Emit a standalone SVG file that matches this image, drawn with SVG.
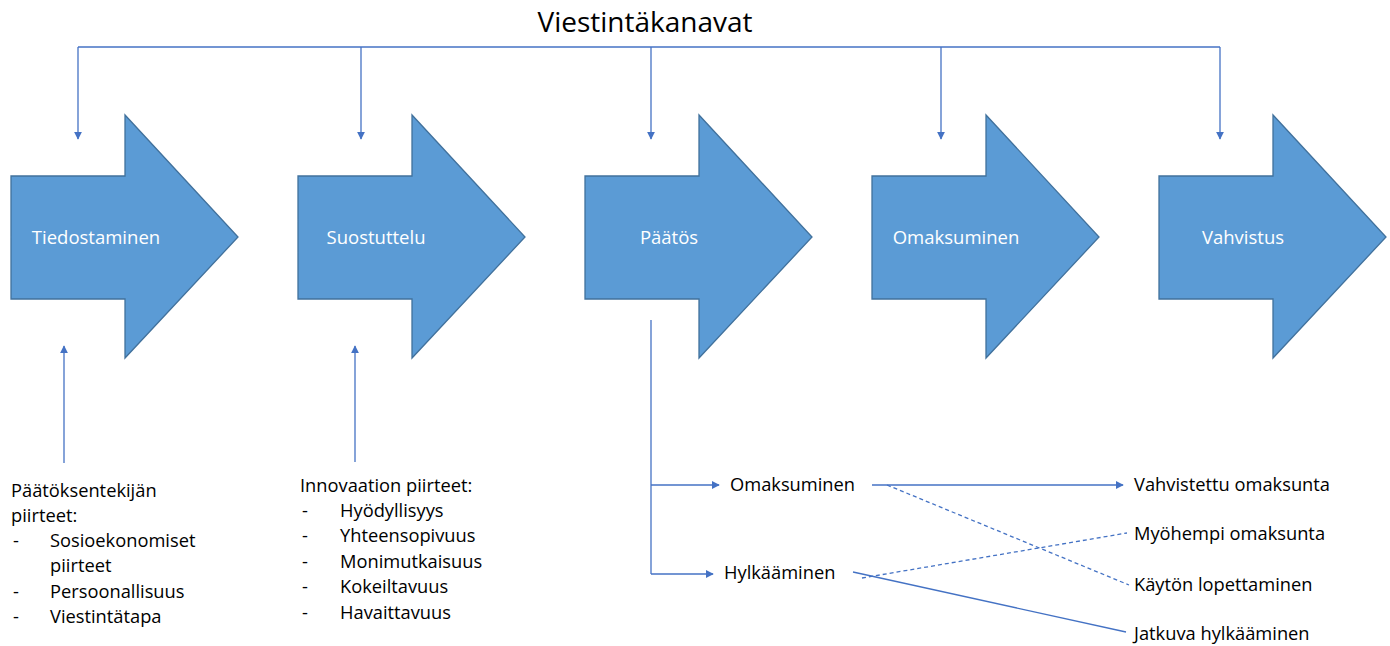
<svg xmlns="http://www.w3.org/2000/svg" width="1390" height="646" viewBox="0 0 1390 646">
  <style>
    .stage { fill: #5B9BD5; stroke: #41719C; stroke-width: 1.3; }
    .stage-label { font-family: "Open Sans", "Liberation Sans", sans-serif; font-size: 18.5px; fill: #FFFFFF; text-anchor: middle; }
    .title { font-family: "Open Sans", "Liberation Sans", sans-serif; font-size: 28px; fill: #000000; text-anchor: middle; }
    .txt { font-family: "Open Sans", "Liberation Sans", sans-serif; font-size: 18.3px; fill: #000000; }
    .conn { fill: none; stroke: #4472C4; stroke-width: 1.3; }
    .dash { stroke-dasharray: 4 3; }
  </style>
  <defs>
    <marker id="tip" viewBox="0 0 10 10" refX="9" refY="5" markerWidth="8" markerHeight="8" markerUnits="userSpaceOnUse" orient="auto">
      <path d="M0,0 L10,5 L0,10 Z" fill="#4472C4"/>
    </marker>
    <path id="stage-shape" d="M0,61 L114,61 L114,0 L227,122 L114,243 L114,184 L0,184 Z"/>
  </defs>

  <rect width="1390" height="646" fill="#FFFFFF"/>

  <text class="title" x="645" y="32">Viestintäkanavat</text>

  <!-- process stages -->
  <g id="stage-tiedostaminen">
    <use href="#stage-shape" class="stage" x="11" y="115"/>
    <text class="stage-label" x="96" y="244">Tiedostaminen</text>
  </g>
  <g id="stage-suostuttelu">
    <use href="#stage-shape" class="stage" x="298" y="115"/>
    <text class="stage-label" x="376" y="244">Suostuttelu</text>
  </g>
  <g id="stage-paatos">
    <use href="#stage-shape" class="stage" x="585" y="115"/>
    <text class="stage-label" x="669" y="244">Päätös</text>
  </g>
  <g id="stage-omaksuminen">
    <use href="#stage-shape" class="stage" x="872" y="115"/>
    <text class="stage-label" x="956" y="244">Omaksuminen</text>
  </g>
  <g id="stage-vahvistus">
    <use href="#stage-shape" class="stage" x="1159" y="115"/>
    <text class="stage-label" x="1243" y="244">Vahvistus</text>
  </g>

  <!-- influencing factors -->
  <g id="decider-traits" class="txt">
    <text x="11" y="497">Päätöksentekijän</text>
    <text x="11" y="522">piirteet:</text>
    <text x="13" y="547">-</text><text x="50" y="547">Sosioekonomiset</text>
    <text x="50" y="572">piirteet</text>
    <text x="13" y="598">-</text><text x="50" y="598">Persoonallisuus</text>
    <text x="13" y="623">-</text><text x="50" y="623">Viestintätapa</text>
  </g>
  <g id="innovation-traits" class="txt">
    <text x="300" y="492">Innovaation piirteet:</text>
    <text x="302" y="517">-</text><text x="340" y="517">Hyödyllisyys</text>
    <text x="302" y="542">-</text><text x="340" y="542">Yhteensopivuus</text>
    <text x="302" y="568">-</text><text x="340" y="568">Monimutkaisuus</text>
    <text x="302" y="593">-</text><text x="340" y="593">Kokeiltavuus</text>
    <text x="302" y="619">-</text><text x="340" y="619">Havaittavuus</text>
  </g>

  <!-- decision outcomes -->
  <g id="outcome-adopt" class="txt"><text x="730" y="491">Omaksuminen</text></g>
  <g id="outcome-reject" class="txt"><text x="724" y="579">Hylkääminen</text></g>
  <g id="result-confirmed" class="txt"><text x="1134" y="491">Vahvistettu omaksunta</text></g>
  <g id="result-later" class="txt"><text x="1134" y="540">Myöhempi omaksunta</text></g>
  <g id="result-discontinue" class="txt"><text x="1134" y="591">Käytön lopettaminen</text></g>
  <g id="result-continued" class="txt"><text x="1134" y="640">Jatkuva hylkääminen</text></g>

  <!-- connectors -->
  <g id="connectors">
    <polyline class="conn" points="78,47 1220,47"/>
    <line class="conn" x1="78" y1="47" x2="78" y2="139" marker-end="url(#tip)"/>
    <line class="conn" x1="361" y1="47" x2="361" y2="139" marker-end="url(#tip)"/>
    <line class="conn" x1="651" y1="47" x2="651" y2="139" marker-end="url(#tip)"/>
    <line class="conn" x1="941" y1="47" x2="941" y2="139" marker-end="url(#tip)"/>
    <line class="conn" x1="1220" y1="47" x2="1220" y2="139" marker-end="url(#tip)"/>

    <line class="conn" x1="64" y1="463" x2="64" y2="346" marker-end="url(#tip)"/>
    <line class="conn" x1="355" y1="462" x2="355" y2="346" marker-end="url(#tip)"/>

    <polyline class="conn" points="651,320 651,574"/>
    <line class="conn" x1="651" y1="485" x2="719" y2="485" marker-end="url(#tip)"/>
    <line class="conn" x1="651" y1="574" x2="713" y2="574" marker-end="url(#tip)"/>

    <line class="conn" x1="872" y1="485" x2="1123" y2="485" marker-end="url(#tip)"/>
    <line class="conn dash" x1="887" y1="485" x2="1129" y2="585"/>
    <line class="conn dash" x1="862" y1="578" x2="1127" y2="533"/>
    <line class="conn" x1="853" y1="572" x2="1126" y2="632"/>
  </g>
</svg>
